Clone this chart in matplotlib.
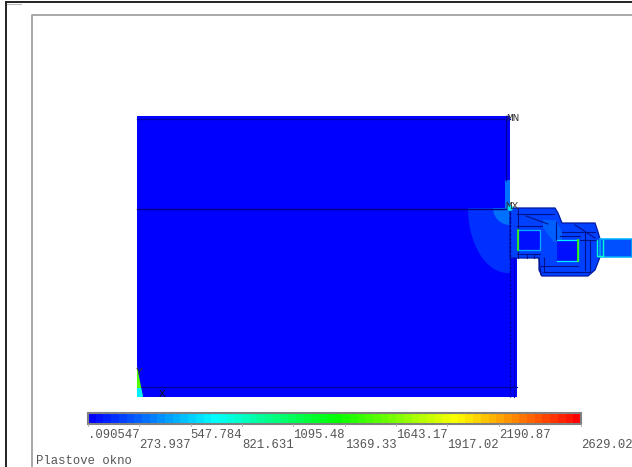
import matplotlib
matplotlib.use("Agg")
import matplotlib.pyplot as plt
from matplotlib.colors import LinearSegmentedColormap, BoundaryNorm
from matplotlib.patches import Polygon, Rectangle, Wedge, Ellipse
import numpy as np

plt.rcParams['font.family'] = ['Liberation Mono', 'DejaVu Sans Mono']

# Contour legend values
tick_values = [0.090547, 273.937, 547.784, 821.631, 1095.48, 1369.33, 1643.17, 1917.02, 2190.87, 2629.02]
tick_labels = ['.090547', '273.937', '547.784', '821.631', '1095.48', '1369.33', '1643.17', '1917.02', '2190.87', '2629.02']
n_bands = 64
vmin, vmax = tick_values[0], tick_values[-1]

# Model geometry (screen px)
wall_x = [137, 510, 510, 517, 517, 137]
wall_y = [116, 116, 258, 258, 397, 397]
profile_x = [510, 555, 558, 562, 595, 598, 600, 600, 595, 588, 542, 539, 539, 517, 510]
profile_y = [208, 208, 213, 223, 223, 232, 239, 257, 270, 276, 276, 270, 258, 258, 258]
glass_x = [600, 632, 632, 600]
glass_y = [239, 239, 257, 257]
patch_x = [543, 556, 562, 562, 554, 543]
patch_y = [220, 220, 232, 242, 242, 228]
steel1_x = [518, 540, 540, 518, 518]
steel1_y = [230, 230, 250, 250, 230]
steel2_x = [557, 578, 578, 557]
steel2_y = [240, 240, 261, 261]

# Stress levels used for the filled regions
stress_wall = 15
stress_profile = 170
stress_patch = 280
stress_glass = 210
stress_q1 = 160
stress_q2 = 300
stress_steel = 1450
stress_tip = 1550

cmap = LinearSegmentedColormap.from_list('ansys', ['#0000ff', '#00ffff', '#00ff00', '#ffff00', '#ff0000'], N=256)
norm = BoundaryNorm(np.linspace(vmin, vmax, n_bands + 1), cmap.N)
col = lambda v: cmap(norm(v))

fig = plt.figure(figsize=(6.32, 4.67), dpi=100)
ax = fig.add_axes([0, 0, 1, 1])
ax.set_xlim(0, 632)
ax.set_ylim(467, 0)
ax.axis('off')

# Frames
ax.plot([6, 6], [2, 467], color='#222222', lw=1.4)
ax.plot([6, 632], [2, 2], color='#222222', lw=1.4)
ax.plot([7, 21], [4, 4], color='#bbbbbb', lw=0.8)
ax.plot([32, 32, 632], [467, 15, 15], color='#999999', lw=1.2)

# Wall and window
ax.add_patch(Polygon(list(zip(wall_x, wall_y)), fc=col(stress_wall), ec='none', zorder=2))
clip = Rectangle((137, 208), 373, 189, transform=ax.transData)
e2 = Ellipse((508, 208), 80, 130, fc=col(stress_q1), ec='none', zorder=3)
ax.add_patch(e2); e2.set_clip_path(clip)
ax.add_patch(Wedge((510, 208), 17, 90, 180, fc=col(stress_q2), ec='none', zorder=3))
ax.add_patch(Rectangle((505, 180), 5, 28, fc=col(stress_q2), ec='none', zorder=3))
ax.add_patch(Polygon(list(zip(profile_x, profile_y)), fc=col(stress_profile), ec='#0018a0', lw=0.9, zorder=3))
ax.add_patch(Polygon(list(zip(patch_x, patch_y)), fc=col(stress_patch), ec='none', zorder=4))
ax.add_patch(Polygon(list(zip(glass_x, glass_y)), fc=col(stress_glass), ec=col(480), lw=1.1, zorder=3))
ax.add_patch(Rectangle((518, 230), 22, 20, fc=col(60), ec='none', zorder=4))
ax.add_patch(Rectangle((557, 240), 21, 21, fc=col(60), ec='none', zorder=4))

# Internal chamber walls
cham_x = [[517, 554], [517, 540], [539, 541], [562, 595], [541, 578], [580, 597], [585, 585], [517, 542], [556, 556], [575, 595],
          [543, 590], [526, 548], [544, 544], [518, 518], [590, 590], [560, 580], [527, 527], [534, 534]]
cham_y = [[214, 214], [254, 254], [258, 275], [232, 232], [266, 266], [240, 240], [232, 270], [226, 226], [222, 240], [225, 238],
          [272, 272], [216, 224], [258, 272], [209, 258], [240, 272], [236, 236], [254, 258], [254, 258]]
for cx, cy in zip(cham_x, cham_y):
    ax.plot(cx, cy, color='#001288', lw=0.8, zorder=5)
ax.plot([597, 597, 603, 603], [240, 256, 256, 240], color=col(800), lw=1.0, zorder=5)
ax.plot(steel1_x, steel1_y, color=col(470), lw=0.9, zorder=5)
ax.plot(steel1_x[3:], steel1_y[3:], color=col(stress_steel), lw=1.2, zorder=6)
ax.plot(steel2_x, steel2_y, color=col(650), lw=0.9, zorder=5)
ax.plot(steel2_x[1:3], steel2_y[1:3], color=col(stress_steel), lw=1.2, zorder=6)

# Mesh lines on the wall
ax.plot([137, 510], [208.5, 208.5], color='#000080', lw=1.0, zorder=6)
ax.plot([137, 517], [387, 387], color='#000090', lw=0.8, zorder=6)
ax.plot([137, 510], [119, 119], color='#0000b0', lw=1.0, zorder=6)
ax.plot([506, 506], [116, 180], color='#0000a0', lw=1.0, zorder=6)
ax.plot([510, 510], [208, 397], color='#0000a0', lw=1.0, ls=(0, (2, 1)), zorder=6)
ax.plot([514, 514], [258, 397], color='#0000c0', lw=0.8, zorder=6)
ax.add_patch(Polygon([(137, 366), (143, 397), (137, 397)], fc=col(stress_tip), ec='none', zorder=7))
ax.add_patch(Polygon([(137, 388), (141, 388), (143, 397), (137, 397)], fc=col(620), ec='none', zorder=7))
ax.add_patch(Wedge((510, 208), 3, 0, 360, fc=col(600), ec='none', zorder=7))

# Node and axis labels
txt = dict(color='#333333', fontsize=8, family=['Liberation Mono', 'DejaVu Sans Mono'], zorder=9)
ax.text(506, 118, 'MN', ha='left', va='center', **txt)
ax.text(505, 206, 'MX', ha='left', va='center', **txt)
ax.text(136, 372, 'Y', ha='left', va='center', **txt)
ax.text(159, 394, 'X', ha='left', va='center', color='#111111', fontsize=8, zorder=9)

# Colour legend
bar_left, bar_width = 88, 493
to_x = lambda v: bar_left + (v - vmin) / (vmax - vmin) * bar_width
levels = np.linspace(vmin, vmax, n_bands + 1)
ax.pcolormesh([to_x(v) for v in levels], [413, 424], np.array([(levels[:-1] + levels[1:]) / 2]),
              cmap=cmap, norm=norm, zorder=3)
ax.add_patch(Rectangle((bar_left, 413), bar_width, 11, fc='none', ec='#808080', lw=1.5, zorder=4))
for i, (v, lab) in enumerate(zip(tick_values, tick_labels)):
    x = to_x(v)
    ax.plot([x, x], [424, 426], color='#aaaaaa', lw=0.6, zorder=4)
    ax.text(x, 434.5 if i % 2 == 0 else 445.5, lab, ha='left', va='center', color='#555555', fontsize=8.8)

ax.text(36, 460.5, 'Plastove okno', ha='left', va='center', color='#555555', fontsize=8.8)

fig.savefig('out.png', dpi=100)
